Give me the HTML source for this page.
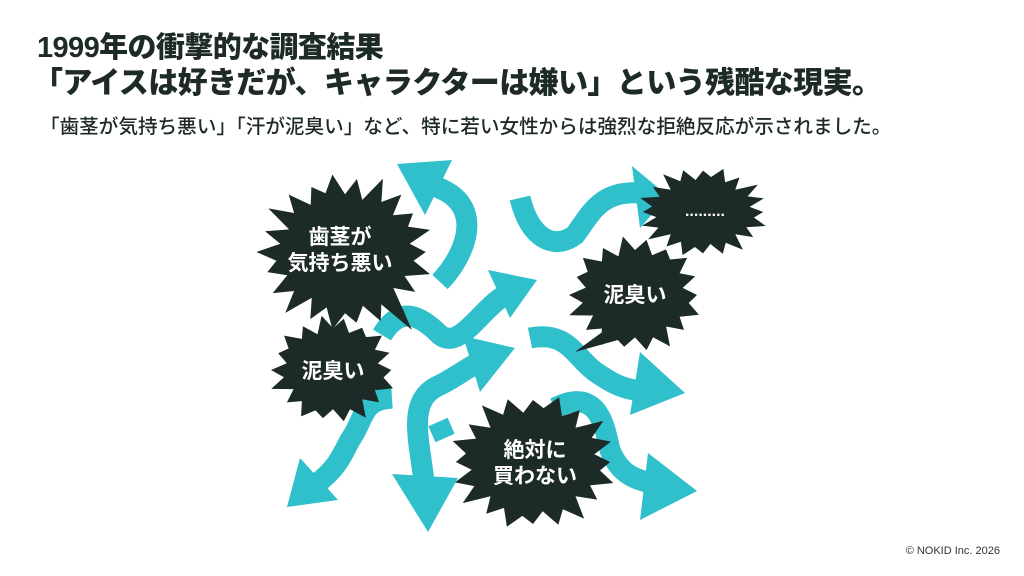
<!DOCTYPE html>
<html><head><meta charset="utf-8">
<style>
body{margin:0;width:1024px;height:576px;background:#fff;overflow:hidden;position:relative;font-family:"Liberation Sans","Noto Sans CJK JP",sans-serif;color:#1d2a27}
.t{position:absolute;left:37px;font-weight:900;font-size:30px;line-height:1;white-space:nowrap}
.s{position:absolute;left:40px;top:118px;font-size:19.6px;line-height:1;white-space:nowrap;font-weight:500}
.c{position:absolute;right:24px;top:545px;font-size:11px;color:#333}
svg{position:absolute;left:0;top:0}
</style></head><body>
<div class="t" style="top:34px;font-size:29px;letter-spacing:-0.6px">1999年の衝撃的な調査結果</div>
<div class="t" style="top:69px;left:33px;letter-spacing:-0.6px">「アイスは好きだが、キャラクターは嫌い」という残酷な現実。</div>
<div class="s">「歯茎が気持ち悪い」「汗が泥臭い」など、特に若い女性からは強烈な拒絶反応が示されました。</div>
<div class="c">© NOKID Inc. 2026</div>
<svg width="1024" height="576" viewBox="0 0 1024 576">
<g fill="none" stroke="#2fc0cc" stroke-width="21" stroke-linecap="butt">
<path d="M440,282 C470,250 485,200 430,185"/>
<path d="M520,198 C530,240 555,250 575,235 C590,215 600,190 640,193"/>
<path d="M382,335 C400,305 420,315 440,335 C460,350 480,310 505,295"/>
<path d="M425,490 C420,440 405,400 440,385 C460,375 470,365 485,360"/>
<path d="M392,398 C360,400 365,420 350,440 C340,460 335,470 315,485"/>
<path d="M530,338 C570,330 575,360 600,375 C615,385 625,390 650,392"/>
<path d="M555,408 C600,385 605,430 610,450 C620,475 635,480 660,485"/>
<path d="M438,422 L445,438"/>
</g>
<g fill="#2fc0cc">
<polygon points="397,164 452,160 425,215"/>
<polygon points="632,166 668,196 640,228"/>
<polygon points="488,270 537,280 510,318"/>
<polygon points="463,336 515,348 480,392"/>
<polygon points="392,474 458,478 428,532"/>
<polygon points="300,458 338,500 287,507"/>
<polygon points="640,352 685,393 630,415"/>
<polygon points="648,453 697,491 640,520"/>
</g>
<g id="stars" fill="#1c2a28"></g>
<g fill="#fff" font-family="Liberation Sans,Noto Sans CJK JP,sans-serif" font-weight="700" text-anchor="middle">
<text x="340" y="244" font-size="21">歯茎が</text>
<text x="340" y="270" font-size="21">気持ち悪い</text>
<text x="333" y="378" font-size="21">泥臭い</text>
<text x="635" y="302" font-size="21">泥臭い</text>
<text x="535" y="457" font-size="21">絶対に</text>
<text x="535" y="483" font-size="21">買わない</text>
<text x="705" y="216" font-size="16">.........</text>
</g>
</svg>
<script>
function star(cx,cy,rx,ry,n,inner,tail){
 var p=[];
 for(var i=0;i<2*n;i++){var a=i*Math.PI/n;var r=(i%2==0)?1:inner;
  var j=1+((i*7919)%5-2)*0.03;
  p.push([cx+Math.cos(a)*rx*r*j,cy+Math.sin(a)*ry*r*j]);}
 var s=p.map(function(q){return q[0].toFixed(1)+","+q[1].toFixed(1)}).join(" ");
 var g=document.getElementById("stars");
 var e=document.createElementNS("http://www.w3.org/2000/svg","polygon");
 e.setAttribute("points",s);g.appendChild(e);
 if(tail){var t=document.createElementNS("http://www.w3.org/2000/svg","polygon");
  t.setAttribute("points",tail);g.appendChild(t);}
}
star(345,252,86,76,22,0.76,"370,295 412,330 392,285");
star(333,370,62,52,18,0.78);
star(703,212,64,44,20,0.76);
star(635,295,66,56,18,0.78,"605,330 575,352 625,338");
star(533,462,82,66,20,0.78);
</script>
</body></html>
